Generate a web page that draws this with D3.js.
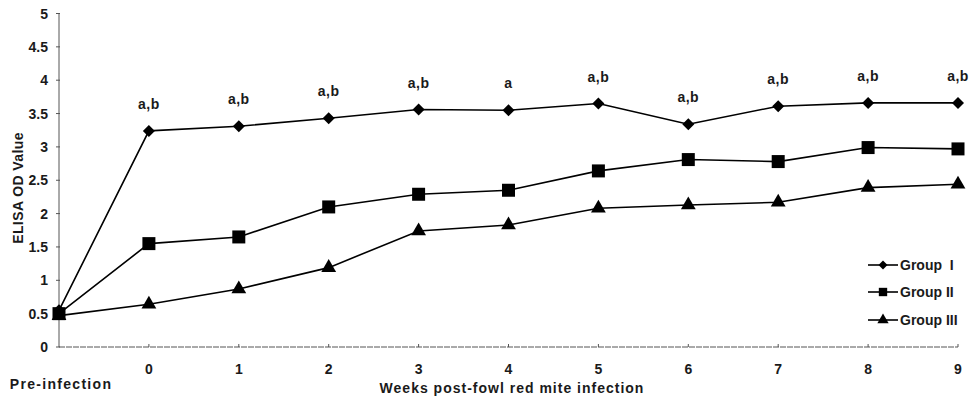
<!DOCTYPE html>
<html>
<head>
<meta charset="utf-8">
<script src="https://cdn.jsdelivr.net/npm/d3@7"></script>
<style>
  html, body { margin: 0; padding: 0; background: #fff; }
  svg { display: block; font-family: "Liberation Sans", Arial, sans-serif; font-weight: bold; }
</style>
</head>
<body>
<div id="chart"></div>
<script>
// x positions: pre-infection sits one step left of week 0
const timePoints = [-1, 0, 1, 2, 3, 4, 5, 6, 7, 8, 9];
const weekTicks = [0, 1, 2, 3, 4, 5, 6, 7, 8, 9];
const yTicks = [0, 0.5, 1, 1.5, 2, 2.5, 3, 3.5, 4, 4.5, 5];
const yTickLabels = ["0", "0.5", "1", "1.5", "2", "2.5", "3", "3.5", "4", "4.5", "5"];

const groupI = [0.55, 3.24, 3.31, 3.43, 3.56, 3.55, 3.65, 3.34, 3.61, 3.66, 3.66];
const groupII = [0.50, 1.55, 1.65, 2.10, 2.29, 2.35, 2.64, 2.81, 2.78, 2.99, 2.97];
const groupIII = [0.47, 0.64, 0.87, 1.19, 1.74, 1.83, 2.08, 2.13, 2.17, 2.39, 2.44];
const sigLabels = ["", "a,b", "a,b", "a,b", "a,b", "a", "a,b", "a,b", "a,b", "a,b", "a,b"];

const seriesNames = ["Group  I", "Group II", "Group III"];

const width = 972, height = 402;

const svg = d3.select("#chart").append("svg")
  .attr("width", width)
  .attr("height", height);

const x = d3.scaleLinear().domain([-1, 9]).range([59, 958]);
const y = d3.scaleLinear().domain([0, 5]).range([347, 13.5]);

const axisColor = "#555";
const textColor = "#1a1a1a";

// 軸
svg.append("line")
  .attr("x1", x(-1)).attr("x2", x(-1))
  .attr("y1", y(5)).attr("y2", y(0))
  .attr("stroke", axisColor).attr("stroke-width", 1);
svg.append("line")
  .attr("x1", x(-1)).attr("x2", x(9))
  .attr("y1", y(0)).attr("y2", y(0))
  .attr("stroke", axisColor).attr("stroke-width", 1)
  .attr("stroke-dasharray", "6,1");

yTicks.forEach((t, i) => {
  svg.append("line")
    .attr("x1", x(-1) - 3).attr("x2", x(-1) + 1)
    .attr("y1", y(t)).attr("y2", y(t))
    .attr("stroke", axisColor);
  svg.append("text")
    .attr("x", 48)
    .attr("y", y(t))
    .attr("dy", "0.36em")
    .attr("text-anchor", "end")
    .style("font-size", "14px")
    .style("fill", textColor)
    .text(yTickLabels[i]);
});

weekTicks.forEach(w => {
  svg.append("line")
    .attr("x1", x(w)).attr("x2", x(w))
    .attr("y1", y(0)).attr("y2", y(0) - 3)
    .attr("stroke", axisColor);
  svg.append("text")
    .attr("x", x(w))
    .attr("y", 369)
    .attr("dy", "0.36em")
    .attr("text-anchor", "middle")
    .style("font-size", "14px")
    .style("fill", textColor)
    .text(w);
});

svg.append("text")
  .attr("x", x(-1) + 2)
  .attr("y", 384)
  .attr("dy", "0.36em")
  .attr("text-anchor", "middle")
  .style("font-size", "14px")
  .style("letter-spacing", "1.3px")
  .style("fill", textColor)
  .text("Pre-infection");

svg.append("text")
  .attr("x", 512)
  .attr("y", 388)
  .attr("dy", "0.36em")
  .attr("text-anchor", "middle")
  .style("font-size", "14px")
  .style("letter-spacing", "1px")
  .style("fill", textColor)
  .text("Weeks post-fowl red mite infection");

svg.append("text")
  .attr("transform", `translate(18,188) rotate(-90)`)
  .attr("dy", "0.36em")
  .attr("text-anchor", "middle")
  .style("font-size", "14px")
  .style("letter-spacing", "0.4px")
  .style("fill", textColor)
  .text("ELISA OD Value");

// 系列
const symbols = [
  { type: d3.symbolSquare, size: 72, rotate: 45 },
  { type: d3.symbolSquare, size: 169, rotate: 0 },
  { type: d3.symbolTriangle, size: 95, rotate: 0 }
];
const allSeries = [groupI, groupII, groupIII];

const line = d3.line()
  .x((d, i) => x(timePoints[i]))
  .y(d => y(d));

// draw lines first, then markers, group III first so group I is on top
[2, 1, 0].forEach(s => {
  svg.append("path")
    .datum(allSeries[s])
    .attr("d", line)
    .attr("fill", "none")
    .attr("stroke", "#000")
    .attr("stroke-width", 1.6);
});
[2, 1, 0].forEach(s => {
  const sym = d3.symbol().type(symbols[s].type).size(symbols[s].size);
  allSeries[s].forEach((v, i) => {
    svg.append("path")
      .attr("d", sym())
      .attr("transform", `translate(${x(timePoints[i])},${y(v)}) rotate(${symbols[s].rotate})`)
      .attr("fill", "#000");
  });
});

// 有意差ラベル
groupI.forEach((v, i) => {
  if (!sigLabels[i]) return;
  svg.append("text")
    .attr("x", x(timePoints[i]))
    .attr("y", y(v) - 27)
    .attr("dy", "0.36em")
    .attr("text-anchor", "middle")
    .style("font-size", "14px")
    .style("letter-spacing", "0.5px")
    .style("fill", textColor)
    .text(sigLabels[i]);
});

// 凡例
const legendY = [265, 292, 320];
const legendSym = [
  { type: d3.symbolSquare, size: 40, rotate: 45 },
  { type: d3.symbolSquare, size: 70, rotate: 0 },
  { type: d3.symbolTriangle, size: 55, rotate: 0 }
];
seriesNames.forEach((name, s) => {
  const ly = legendY[s];
  svg.append("line")
    .attr("x1", 868).attr("x2", 898)
    .attr("y1", ly).attr("y2", ly)
    .attr("stroke", "#000").attr("stroke-width", 1.6);
  svg.append("path")
    .attr("d", d3.symbol().type(legendSym[s].type).size(legendSym[s].size)())
    .attr("transform", `translate(883,${ly}) rotate(${legendSym[s].rotate})`)
    .attr("fill", "#000");
  svg.append("text")
    .attr("x", 900)
    .attr("y", ly)
    .attr("dy", "0.36em")
    .style("font-size", "14px")
    .style("fill", textColor)
    .style("white-space", "pre")
    .text(name);
});
</script>
</body>
</html>
